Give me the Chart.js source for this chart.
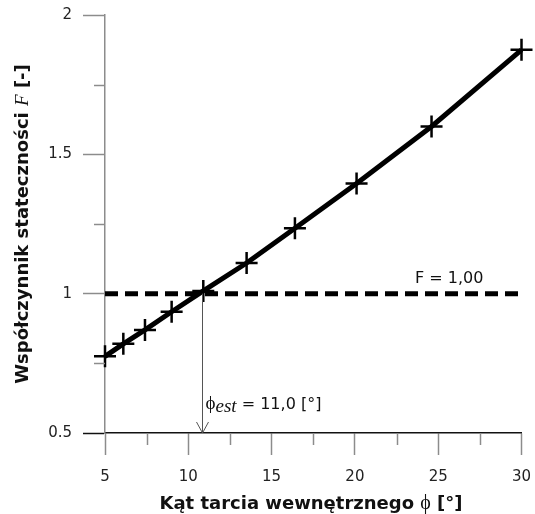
<!DOCTYPE html>
<html>
<head>
<meta charset="utf-8">
<script src="https://cdn.jsdelivr.net/npm/chart.js@4"></script>
<style>
html, body { margin: 0; padding: 0; background: #fff; }
</style>
</head>
<body>
<canvas id="myChart" width="535" height="514"></canvas>
<script>
// values
const phi = [5, 6.1, 7.4, 9.0, 10.9, 13.5, 16.4, 20.1, 24.6, 30];
const safety = [0.775, 0.82, 0.87, 0.935, 1.01, 1.11, 1.235, 1.395, 1.6, 1.875];
const refX = [5, 30];
const refF = [1, 1];
const phiEst = 10.85;
const refLabel = 'F = 1,00';
const estLabel = ' = 11,0 [°]';

const sans = '"DejaVu Sans", Arial, sans-serif';
const serif = '"Liberation Serif", "Times New Roman", "DejaVu Serif", serif';

// draw a row of text pieces with different fonts
function drawRuns(ctx, runs, x, y, align) {
	let total = 0;
	runs.forEach(r => { ctx.font = r.font; total += ctx.measureText(r.text).width; });
	let cx = align === 'center' ? x - total / 2 : x;
	runs.forEach(r => {
		ctx.font = r.font;
		ctx.fillText(r.text, cx, y + (r.dy || 0));
		cx += ctx.measureText(r.text).width;
	});
}

const extras = {
	id: 'extras',
	afterDraw(chart) {
		const ctx = chart.ctx;
		const xs = chart.scales.x;
		const ys = chart.scales.y;
		const left = chart.chartArea.left;
		const bottom = chart.chartArea.bottom;
		ctx.save();

		// minor ticks
		ctx.strokeStyle = '#8c8c8c';
		ctx.lineWidth = 1.5;
		[0.75, 1.25, 1.75].forEach(v => {
			const py = Math.round(ys.getPixelForValue(v)) + 0.5;
			ctx.beginPath(); ctx.moveTo(left - 11, py); ctx.lineTo(left, py); ctx.stroke();
		});
		[7.5, 12.5, 17.5, 22.5, 27.5].forEach(v => {
			const px = Math.round(xs.getPixelForValue(v)) + 0.5;
			ctx.beginPath(); ctx.moveTo(px, bottom); ctx.lineTo(px, bottom + 12); ctx.stroke();
		});

		// arrow down to phi_est
		const ax = Math.round(xs.getPixelForValue(phiEst)) + 0.5;
		const ay = ys.getPixelForValue(1);
		ctx.strokeStyle = '#555';
		ctx.lineWidth = 1;
		ctx.beginPath(); ctx.moveTo(ax, ay); ctx.lineTo(ax, bottom); ctx.stroke();
		ctx.beginPath();
		ctx.moveTo(ax - 6, bottom - 11); ctx.lineTo(ax, bottom); ctx.lineTo(ax + 6, bottom - 11);
		ctx.stroke();

		// annotations
		ctx.fillStyle = '#111';
		ctx.textBaseline = 'alphabetic';
		drawRuns(ctx, [
			{text: 'ϕ', font: '19px ' + serif},
			{text: 'est', font: 'italic 19px ' + serif, dy: 3},
			{text: estLabel, font: '16px ' + sans}
		], ax + 3, 409, 'left');
		ctx.font = '16px ' + sans;
		ctx.fillText(refLabel, 415, ys.getPixelForValue(1) - 11);

		// axis titles
		const bold = 'bold 18px ' + sans;
		drawRuns(ctx, [
			{text: 'Kąt tarcia wewnętrznego ', font: bold},
			{text: 'ϕ', font: '20px ' + serif},
			{text: ' [°]', font: bold}
		], 311, 509, 'center');

		ctx.translate(28, (ys.top + ys.bottom) / 2);
		ctx.rotate(-Math.PI / 2);
		drawRuns(ctx, [
			{text: 'Współczynnik stateczności ', font: bold},
			{text: 'F', font: 'italic 19px ' + serif},
			{text: ' [-]', font: bold}
		], 0, 0, 'center');
		ctx.restore();
	}
};

const data = {
	datasets: [{
		label: 'F',
		data: phi.map((p, i) => ({x: p, y: safety[i]})),
		showLine: true,
		clip: false,
		borderColor: '#000',
		borderWidth: 5,
		pointStyle: 'cross',
		pointRadius: 11,
		pointBorderWidth: 2.5,
		pointBorderColor: '#000',
		pointBackgroundColor: '#000',
		tension: 0
	}, {
		label: 'F = 1',
		data: refX.map((p, i) => ({x: p, y: refF[i]})),
		showLine: true,
		borderColor: '#000',
		borderWidth: 5,
		borderDash: [13, 7],
		pointRadius: 0
	}]
};

const options = {
	responsive: false,
	animation: false,
	layout: {padding: {top: 15, right: 10, left: 0, bottom: 0}},
	plugins: {legend: {display: false}, tooltip: {enabled: false}},
	scales: {
		x: {
			type: 'linear',
			min: 5,
			max: 30,
			afterFit(scale) { scale.height = 81; scale.paddingLeft = 0; scale.paddingRight = 0; },
			ticks: {
				stepSize: 5,
				padding: 13,
				color: '#222',
				font: {family: sans, size: 15},
				maxRotation: 0
			},
			grid: {
				drawOnChartArea: false,
				drawTicks: true,
				tickLength: 22,
				tickColor: '#8c8c8c',
				tickWidth: 1.5
			},
			border: {color: '#111', width: 1.5}
		},
		y: {
			type: 'linear',
			min: 0.5,
			max: 2,
			afterFit(scale) { scale.width = 105; scale.paddingTop = 0; scale.paddingBottom = 0; },
			ticks: {
				stepSize: 0.5,
				padding: 11,
				color: '#222',
				font: {family: sans, size: 15},
				callback: v => String(v)
			},
			grid: {
				drawOnChartArea: false,
				drawTicks: true,
				tickLength: 22,
				tickColor: c => (c.tick && c.tick.value === 0.5) ? '#111' : '#8c8c8c',
				tickWidth: 1.5
			},
			border: {color: '#8c8c8c', width: 1.5}
		}
	}
};

const ctx = document.getElementById('myChart').getContext('2d');
const myChart = new Chart(ctx, {type: 'scatter', data, options, plugins: [extras]});
</script>
</body>
</html>
